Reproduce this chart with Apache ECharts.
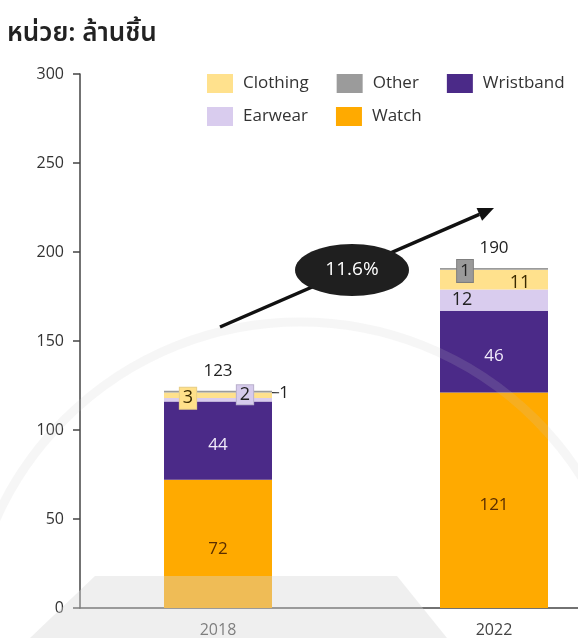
<!DOCTYPE html>
<html>
<head>
<meta charset="utf-8">
<script src="https://cdn.jsdelivr.net/npm/echarts@6/dist/echarts.min.js"></script>
<style>
html,body{margin:0;padding:0;background:#fff;}
#chart{width:578px;height:638px;}
</style>
</head>
<body>
<div id="chart"></div>
<script>
// ---- data ----
const categories = ['2018', '2022'];
const watch = [72, 121];
const wristband = [44, 46];
const earwear = [2, 12];
const clothing = [3, 11];
const other = [1, 1];
const totals = [123, 190];
const yMin = 0, yMax = 300, yStep = 50;
const unitTitle = 'หน่วย: ล้านชิ้น';
const cagrLabel = '11.6%';

const FONT = '"Open Sans", "Noto Sans", sans-serif';
const COLORS = {
  Watch: '#FFAA00',
  Wristband: '#4B2A88',
  Earwear: '#D9CCEE',
  Clothing: '#FFE18D',
  Other: '#9B9B9B'
};

function mk(values, labels) {
  return values.map((v, i) => Object.assign({ value: v }, labels[i] || {}));
}

const chart = echarts.init(document.getElementById('chart'), null, { renderer: 'canvas' });

// arrow geometry (annotation)
const ax1 = 220, ay1 = 327, ax2 = 494, ay2 = 208;
const ang = Math.atan2(ay2 - ay1, ax2 - ax1);
const hl = 16, hw = 7;
const bx = ax2 - hl * Math.cos(ang), by = ay2 - hl * Math.sin(ang);
const head = [
  [ax2, ay2],
  [bx + hw * Math.sin(ang), by - hw * Math.cos(ang)],
  [bx - hw * Math.sin(ang), by + hw * Math.cos(ang)]
];

const baseLabel = { fontFamily: FONT, fontSize: 16 };
const legendText = { fontSize: 17, color: '#333', padding: [0, 0, 0, 5], fontFamily: FONT };

const option = {
  backgroundColor: '#ffffff',
  animation: false,
  textStyle: { fontFamily: FONT },
  title: {
    text: unitTitle,
    left: 7, top: 23, padding: 0,
    textStyle: { fontSize: 26, fontWeight: 600, color: '#222', fontFamily: '"Noto Sans Thai","Noto Sans", sans-serif' }
  },
  legend: [
    {
      data: ['Clothing', 'Other', 'Wristband'],
      left: 207, top: 74, padding: 0,
      itemWidth: 26, itemHeight: 19, itemGap: 28,
      icon: 'rect',
      textStyle: legendText
    },
    {
      data: ['Earwear', 'Watch'],
      left: 207, top: 107, padding: 0,
      itemWidth: 26, itemHeight: 19, itemGap: 28,
      icon: 'rect',
      textStyle: legendText
    }
  ],
  grid: { left: 80, top: 74, width: 552, bottom: 30, containLabel: false, outerBoundsMode: 'none' },
  xAxis: {
    type: 'category',
    data: categories,
    axisLine: { lineStyle: { color: '#444', width: 1.5 } },
    axisTick: { show: false },
    axisLabel: { fontSize: 16, color: '#444', margin: 14, fontFamily: FONT }
  },
  yAxis: {
    type: 'value',
    min: yMin, max: yMax, interval: yStep,
    axisLine: { show: true, lineStyle: { color: '#444', width: 1.5 } },
    axisTick: { show: true, length: 7, lineStyle: { color: '#444', width: 1.5 } },
    splitLine: { show: false },
    axisLabel: { fontSize: 16, color: '#333', margin: 16, fontFamily: FONT }
  },
  series: [
    {
      name: 'Watch', type: 'bar', stack: 't', barWidth: 108,
      itemStyle: { color: COLORS.Watch },
      label: Object.assign({ show: true, position: 'inside', color: '#5a2e00', offset: [0, 5] }, baseLabel, { fontSize: 17 }),
      data: watch
    },
    {
      name: 'Wristband', type: 'bar', stack: 't',
      itemStyle: { color: COLORS.Wristband },
      label: Object.assign({ show: true, position: 'inside', color: '#f1ebfb', offset: [0, 4] }, baseLabel, { fontSize: 17 }),
      data: wristband
    },
    {
      name: 'Earwear', type: 'bar', stack: 't',
      itemStyle: { color: COLORS.Earwear },
      label: Object.assign({ show: true, position: 'inside', color: '#222' }, baseLabel, { fontSize: 18 }),
      data: mk(earwear, [
        { label: { offset: [27, -5], backgroundColor: '#d6cbec', borderColor: '#b9b0cc', borderWidth: 1, padding: [1, 3, 0, 3] } },
        { label: { offset: [-32, 0] } }
      ])
    },
    {
      name: 'Clothing', type: 'bar', stack: 't',
      itemStyle: { color: COLORS.Clothing },
      label: Object.assign({ show: true, position: 'inside', color: '#3a2a00' }, baseLabel, { fontSize: 18 }),
      data: mk(clothing, [
        { label: { offset: [-30, 3], backgroundColor: '#ffe08a', borderColor: '#e8cf8a', borderWidth: 1, padding: [2, 3, 1, 3] } },
        { label: { offset: [26, 3] } }
      ])
    },
    {
      name: 'Other', type: 'bar', stack: 't',
      itemStyle: { color: COLORS.Other },
      label: Object.assign({ show: true, position: 'inside', color: '#222' }, baseLabel, { fontSize: 17 }),
      labelLine: { show: true, lineStyle: { color: '#333', width: 1.2 } },
      labelLayout: function (p) {
        if (p.dataIndex === 0) return { dx: 66, dy: 1 };
        return { dx: -29, dy: 2 };
      },
      data: mk(other, [
        {},
        { label: { backgroundColor: '#9a9a9a', borderColor: '#7d7d7d', borderWidth: 1, padding: [3, 3, 2, 3] }, labelLine: { show: false } }
      ])
    },
    {
      name: 'Total', type: 'bar', stack: 't',
      itemStyle: { color: 'rgba(0,0,0,0)' },
      label: Object.assign({ show: true, position: 'top', color: '#222', distance: 11,
        formatter: p => String(totals[p.dataIndex]) }, baseLabel, { fontSize: 17 }),
      data: totals.map(() => 0)
    }
  ],
  graphic: [
    // faint watermark ring
    {
      type: 'circle', z: 100, silent: true,
      shape: { cx: 300, cy: 655, r: 333 },
      style: { fill: null, stroke: 'rgba(200,200,200,0.16)', lineWidth: 9 }
    },
    // faint watermark band at bottom
    {
      type: 'polygon', z: 100, silent: true,
      shape: { points: [[30, 638], [95, 576], [397, 576], [447, 638]] },
      style: { fill: 'rgba(215,215,215,0.40)' }
    },
    // growth arrow
    {
      type: 'line', z: 110, silent: true,
      shape: { x1: ax1, y1: ay1, x2: bx, y2: by },
      style: { stroke: '#111', lineWidth: 3.5 }
    },
    {
      type: 'polygon', z: 110, silent: true,
      shape: { points: head },
      style: { fill: '#111' }
    },
    {
      type: 'ellipse', z: 111, silent: true,
      shape: { cx: 352, cy: 270, rx: 57, ry: 26 },
      style: { fill: '#1f1f1f' }
    },
    {
      type: 'text', z: 112, silent: true,
      x: 352, y: 270,
      style: { text: cagrLabel, fill: '#ffffff', fontSize: 19, fontFamily: FONT, align: 'center', verticalAlign: 'middle' }
    }
  ]
};

chart.setOption(option);
</script>
</body>
</html>
